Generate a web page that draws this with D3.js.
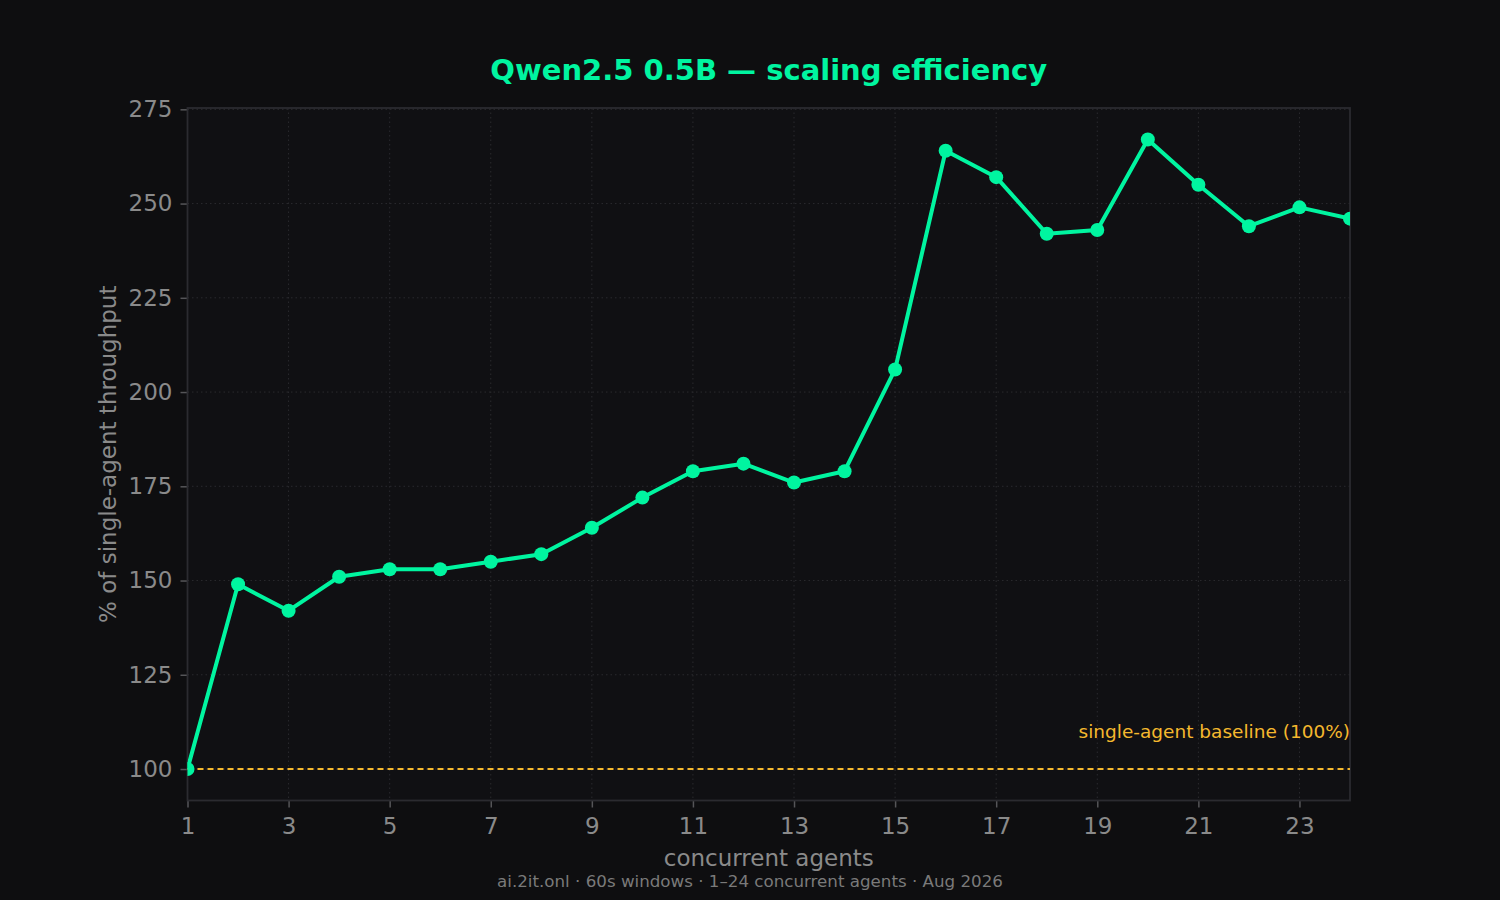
<!DOCTYPE html>
<html>
<head>
<meta charset="utf-8">
<script src="https://cdn.jsdelivr.net/npm/d3@7"></script>
<style>
  body { margin: 0; background: #0e0e10; }
  svg { display: block; font-family: "DejaVu Sans", sans-serif; }
</style>
</head>
<body>
<div id="chart"></div>
<script>
// chart data
const agents = d3.range(1, 25);
const efficiency = [100, 149, 142, 151, 153, 153, 155, 157, 164, 172, 179, 181,
                    176, 179, 206, 264, 257, 242, 243, 267, 255, 244, 249, 246];
const xTicks = [1, 3, 5, 7, 9, 11, 13, 15, 17, 19, 21, 23];
const yTicks = [100, 125, 150, 175, 200, 225, 250, 275];
const baseline = 100;

const width = 1500;
const height = 900;
const margin = { top: 108, right: 150, bottom: 100, left: 187.5 };

const svg = d3.select("#chart")
  .append("svg")
  .attr("width", width)
  .attr("height", height);

svg.append("rect")
  .attr("width", width)
  .attr("height", height)
  .attr("fill", "#0e0e10");

const plotW = width - margin.left - margin.right;
const plotH = height - margin.top - margin.bottom + 0.5;

// scales
const x = d3.scaleLinear().domain([1, 24]).range([margin.left, margin.left + plotW]);
const y = d3.scaleLinear().domain([91.65, 275.35]).range([margin.top + plotH, margin.top]);

// plot background
svg.append("rect")
  .attr("x", margin.left)
  .attr("y", margin.top)
  .attr("width", plotW)
  .attr("height", plotH)
  .attr("fill", "#101013");

svg.append("clipPath")
  .attr("id", "plot-clip")
  .append("rect")
  .attr("x", margin.left)
  .attr("y", margin.top)
  .attr("width", plotW)
  .attr("height", plotH);

// grid lines
svg.append("g")
  .selectAll("line")
  .data(xTicks)
  .join("line")
  .attr("x1", d => x(d))
  .attr("x2", d => x(d))
  .attr("y1", margin.top)
  .attr("y2", margin.top + plotH)
  .attr("stroke", "#2a2a2e")
  .attr("stroke-width", 1)
  .attr("stroke-dasharray", "1.5,3");

svg.append("g")
  .selectAll("line")
  .data(yTicks)
  .join("line")
  .attr("x1", margin.left)
  .attr("x2", margin.left + plotW)
  .attr("y1", d => y(d))
  .attr("y2", d => y(d))
  .attr("stroke", "#2a2a2e")
  .attr("stroke-width", 1)
  .attr("stroke-dasharray", "1.5,3");

// axes
const xAxis = d3.axisBottom(x).tickValues(xTicks).tickSize(7).tickPadding(10).tickFormat(d3.format("d"));
const yAxis = d3.axisLeft(y).tickValues(yTicks).tickSize(7).tickPadding(8).tickFormat(d3.format("d"));

const gx = svg.append("g")
  .attr("transform", `translate(0, ${margin.top + plotH})`)
  .call(xAxis);
const gy = svg.append("g")
  .attr("transform", `translate(${margin.left}, 0)`)
  .call(yAxis);

[gx, gy].forEach(g => {
  g.select(".domain").remove();
  g.selectAll(".tick line").attr("stroke", "#555558").attr("stroke-width", 1.5);
  g.selectAll(".tick text")
    .attr("fill", "#8a8a8a")
    .style("font-size", "23px")
    .style("font-family", "DejaVu Sans, sans-serif");
});

// frame
svg.append("rect")
  .attr("x", margin.left)
  .attr("y", margin.top)
  .attr("width", plotW)
  .attr("height", plotH)
  .attr("fill", "none")
  .attr("stroke", "#2b2b30")
  .attr("stroke-width", 1.8);

// baseline
svg.append("line")
  .attr("x1", margin.left)
  .attr("x2", margin.left + plotW)
  .attr("y1", y(baseline))
  .attr("y2", y(baseline))
  .attr("stroke", "#f5b82e")
  .attr("stroke-width", 2)
  .attr("stroke-dasharray", "6,4");

svg.append("text")
  .attr("x", margin.left + plotW)
  .attr("y", y(baseline) - 31)
  .attr("text-anchor", "end")
  .attr("fill", "#f5b82e")
  .style("font-size", "18.5px")
  .text("single-agent baseline (100%)");

// series line and markers
const series = agents.map((a, i) => ({ a, v: efficiency[i] }));
const plot = svg.append("g").attr("clip-path", "url(#plot-clip)");

plot.append("path")
  .datum(series)
  .attr("fill", "none")
  .attr("stroke", "#00f5a0")
  .attr("stroke-width", 4)
  .attr("stroke-linejoin", "round")
  .attr("d", d3.line().x(d => x(d.a)).y(d => y(d.v)));

plot.selectAll("circle")
  .data(series)
  .join("circle")
  .attr("cx", d => x(d.a))
  .attr("cy", d => y(d.v))
  .attr("r", 7)
  .attr("fill", "#00f5a0");

// titles
svg.append("text")
  .attr("x", margin.left + plotW / 2)
  .attr("y", 80)
  .attr("text-anchor", "middle")
  .attr("fill", "#00f5a0")
  .style("font-size", "29px")
  .style("font-weight", "bold")
  .text("Qwen2.5 0.5B — scaling efficiency");

svg.append("text")
  .attr("x", margin.left + plotW / 2)
  .attr("y", 866)
  .attr("text-anchor", "middle")
  .attr("fill", "#8a8a8a")
  .style("font-size", "23px")
  .text("concurrent agents");

svg.append("text")
  .attr("transform", `translate(116, ${margin.top + plotH / 2}) rotate(-90)`)
  .attr("text-anchor", "middle")
  .attr("fill", "#8a8a8a")
  .style("font-size", "23px")
  .text("% of single-agent throughput");

svg.append("text")
  .attr("x", width / 2)
  .attr("y", 887)
  .attr("text-anchor", "middle")
  .attr("fill", "#7a7a7a")
  .style("font-size", "16.7px")
  .text("ai.2it.onl · 60s windows · 1–24 concurrent agents · Aug 2026");
</script>
</body>
</html>
